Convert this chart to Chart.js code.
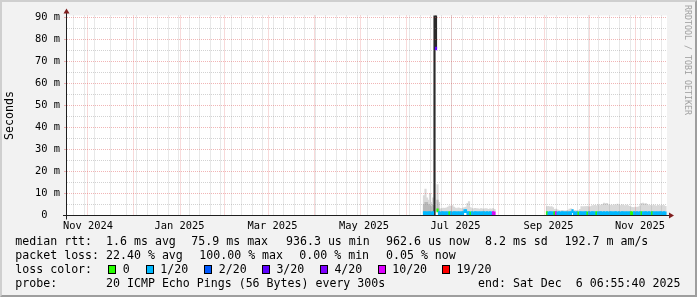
<!DOCTYPE html>
<html><head><meta charset="utf-8">
<script src="https://cdn.jsdelivr.net/npm/chart.js@4.4.0/dist/chart.umd.min.js"></script>
<style>
html,body{margin:0;padding:0;background:#f2f2f2;}
#wrap{position:relative;width:697px;height:297px;background:#f2f2f2;overflow:hidden;}
#frame{position:absolute;left:0;top:0;width:697px;height:297px;box-sizing:border-box;border-style:solid;border-width:2px;border-color:#cfcfcf #9e9e9e #9e9e9e #cfcfcf;}
canvas{position:absolute;left:0;top:0;}
.t{position:absolute;font-family:'DejaVu Sans Mono',monospace;font-size:11.6px;line-height:14px;white-space:pre;color:#000;}
.box{position:absolute;top:265px;width:8px;height:9px;box-sizing:border-box;border:1px solid #000;}
#wm{position:absolute;left:692px;top:5px;transform-origin:0 0;transform:rotate(90deg);font-family:'DejaVu Sans Mono',monospace;font-size:8.3px;line-height:9px;white-space:pre;color:#a0a0a0;}
</style></head><body>
<div id="wrap">
<div id="frame"></div>
<canvas id="c" width="697" height="297"></canvas>
<div class="t" style="left:15.3px;top:234px">median rtt:  1.6 ms avg</div>
<div class="t" style="left:191.3px;top:234px">75.9 ms max</div>
<div class="t" style="left:286px;top:234px">936.3 us min</div>
<div class="t" style="left:386px;top:234px">962.6 us now</div>
<div class="t" style="left:485px;top:234px">8.2 ms sd</div>
<div class="t" style="left:564.6px;top:234px">192.7 m am/s</div>
<div class="t" style="left:15.3px;top:248px">packet loss: 22.40 % avg</div>
<div class="t" style="left:199.3px;top:248px">100.00 % max</div>
<div class="t" style="left:299.3px;top:248px">0.00 % min</div>
<div class="t" style="left:386px;top:248px">0.05 % now</div>
<div class="t" style="left:15.3px;top:262px">loss color:</div>
<div id="lossLegend"></div>
<div class="t" style="left:15.3px;top:276px">probe:       20 ICMP Echo Pings (56 Bytes) every 300s</div>
<div class="t" style="left:478px;top:276px">end: Sat Dec  6 06:55:40 2025</div>
<div id="wm">RRDTOOL / TOBI OETIKER</div>
</div>
<script>
// ---------- data ----------
const EPOCH = '2024-11-01';
const viewStart = '2024-11-02';
const viewEnd = '2025-12-07';

const xLabelText = ['Nov 2024','Jan 2025','Mar 2025','May 2025','Jul 2025','Sep 2025','Nov 2025'];
const xLabelAt   = ['2024-11-16','2025-01-16','2025-03-19','2025-05-19','2025-07-19','2025-09-19','2025-11-19'];
const monthGrid  = ['2024-12-01','2025-01-01','2025-02-01','2025-03-01','2025-04-01','2025-05-01','2025-06-01',
                    '2025-07-01','2025-08-01','2025-09-01','2025-10-01','2025-11-01','2025-12-01'];
const firstWeekGrid = '2024-11-03';

const yMax = 90.9;
const yGrid = [0,5,10,15,20,25,30,35,40,45,50,55,60,65,70,75,80,85,90];
const yLabelValues = [0,10,20,30,40,50,60,70,80,90];
const yLabelText = ['0  ','10 m','20 m','30 m','40 m','50 m','60 m','70 m','80 m','90 m'];

const lossLevels = [0,1,2,3,4,10,19];
const lossNames  = ['0','1/20','2/20','3/20','4/20','10/20','19/20'];
const lossColors = ['#26ff00','#00b8ff','#0059ff','#5e00ff','#7e00ff','#dd00ff','#ff0000'];

// segment 1: 2025-06-28 .. 2025-08-14 (ms)
const start1 = '2025-06-28';
const median1 = [1.05,1.1,1.0,1.05,1.1,1.0,1.05,null,75.9,2.3,1.05,1.0,1.05,1.1,1.0,1.05,1.0,1.1,1.05,1.0,
                 1.05,1.1,1.0,1.05,1.0,1.05,1.1,2.0,2.0,1.1,1.05,1.0,1.05,1.0,1.1,1.05,1.0,1.05,1.0,1.05,
                 1.1,1.0,1.05,1.0,1.05,1.0,1.05,1.0];
const loss1   = [1,1,1,1,1,1,1,null,3,0,1,1,1,1,1,1,1,0,1,1,
                 1,1,1,1,1,1,1,1,1,1,1,0,1,1,1,1,1,1,1,1,
                 1,1,1,1,1,1,10,10];
const smokeHi1 = [9,12,8,7,10,6,8,null,null,14,6,3.0,3.2,3.4,3.3,3.5,3.8,4.4,4.2,4.5,
                  3.8,3.4,3.2,3.5,3.3,3.1,3.4,3.6,3.8,5.5,6.3,3.6,3.2,3.0,3.3,3.1,3.0,2.9,3.2,3.0,
                  2.9,3.1,3.0,2.8,3.0,2.9,3.1,2.8];
const smokeMid1 = [5,6,6,5,4.5,4,5,null,null,7,3,null,null,null,null,null,null,null,null,null,
                   null,null,null,null,null,null,null,null,null,null,null,null,null,null,null,null,null,null,null,null,
                   null,null,null,null,null,null,null,null];
const smokeCore1 = [null,null,null,null,null,null,null,91,91,null,null,null,null,null,null,null,null,null,null,null,
                    null,null,null,null,null,null,null,null,null,null,null,null,null,null,null,null,null,null,null,null,
                    null,null,null,null,null,null,null,null];

// segment 2: 2025-09-18 .. 2025-12-06 (ms)
const start2 = '2025-09-18';
const median2 = [1.05,1.0,1.1,1.05,1.0,1.05,1.1,1.0,1.05,1.0,1.05,1.1,1.0,1.05,1.0,1.05,1.1,2.0,1.05,1.0,
                 1.05,1.0,1.1,1.05,1.0,1.05,1.1,1.0,1.05,1.0,1.05,1.1,1.0,1.05,1.0,1.05,1.1,1.0,1.05,1.0,
                 1.05,1.0,1.1,1.05,1.0,1.05,1.1,1.0,1.05,1.0,1.05,1.1,1.0,1.05,1.0,1.05,1.1,1.0,1.05,1.0,
                 1.05,1.0,1.1,1.05,1.0,1.05,1.1,1.0,1.05,1.0,1.05,1.1,1.0,1.05,1.0,1.05,1.1,1.0,1.05,1.0];
const loss2   = [0,1,1,1,1,0,10,1,1,1,1,1,1,1,1,1,1,1,1,1,
                 1,0,1,1,1,1,1,0,1,1,1,1,1,0,1,1,1,1,1,1,
                 1,1,1,1,1,1,1,1,1,1,1,1,1,1,1,1,0,0,1,1,
                 1,1,1,0,1,1,1,1,1,1,0,1,1,1,1,1,1,1,1,1];
const smokeHi2 = [4.0,4.2,3.8,4.0,3.6,2.8,2.9,2.6,2.2,2.1,2.3,2.2,2.0,2.2,2.4,2.9,3.0,2.8,2.2,2.3,
                  2.1,2.2,2.8,4.0,3.9,4.1,4.0,4.2,3.8,4.0,4.4,4.5,4.6,4.4,4.8,4.5,4.7,5.0,5.6,5.4,
                  5.5,4.8,4.6,4.7,4.5,4.9,4.6,5.2,4.7,4.5,4.8,4.6,4.4,4.7,4.5,4.2,3.8,3.7,3.6,3.8,
                  3.7,3.9,4.4,5.5,5.6,5.3,5.4,4.9,4.5,4.6,4.4,4.7,4.5,4.3,4.6,4.5,4.4,4.6,4.5,4.2];

// ---------- helpers ----------
const DAY = 864e5;
const ep = Date.parse(EPOCH + 'T00:00:00Z');
const dayOf = s => (Date.parse(s + 'T00:00:00Z') - ep) / DAY;
const X_MIN = dayOf(viewStart), X_MAX = dayOf(viewEnd);
const BAND = 0.68; // half height of the median band, ms

const segments = [
  {start: start1, median: median1, loss: loss1, hi: smokeHi1, mid: smokeMid1, core: smokeCore1},
  {start: start2, median: median2, loss: loss2, hi: smokeHi2, mid: null, core: null}
];
function smokeBars(key) {
  const out = [];
  for (const s of segments) {
    const arr = s[key]; if (!arr) continue;
    const d0 = dayOf(s.start);
    arr.forEach((v, i) => { if (v == null) return; const m = s.median[i]; out.push({x: d0 + i, y: [m == null ? 0 : m, v]}); });
  }
  return out;
}
function medianBars() {
  const out = [];
  for (const s of segments) {
    const d0 = dayOf(s.start);
    s.median.forEach((m, i) => { if (m == null) return; out.push({x: d0 + i, y: [m - BAND, m + BAND], loss: s.loss[i]}); });
  }
  return out;
}
function lossColor(l) {
  for (let i = 0; i < lossLevels.length; i++) if (l <= lossLevels[i]) return lossColors[i];
  return lossColors[lossColors.length - 1];
}

// loss legend boxes
(function(){
  const boxX = [108.4,145.8,204.4,262,320,377.8,442.2];
  const host = document.getElementById('lossLegend');
  lossNames.forEach((n, i) => {
    const b = document.createElement('div'); b.className = 'box';
    b.style.left = boxX[i] + 'px'; b.style.background = lossColors[i]; host.appendChild(b);
    const t = document.createElement('div'); t.className = 't';
    t.style.left = (boxX[i] + 14.4) + 'px'; t.style.top = '262px'; t.textContent = n; host.appendChild(t);
  });
})();

// ---------- chart ----------
const MONO = 'DejaVu Sans Mono';
const MAJOR = 'rgba(222,79,79,0.42)';
const MINOR = 'rgba(143,143,143,0.4)';
const CLEAR = 'rgba(0,0,0,0)';

const weekGrid = [];
for (let d = dayOf(firstWeekGrid); d <= X_MAX; d += 7) {
  if (!monthGrid.some(m => dayOf(m) === d)) weekGrid.push(d);
}

const rrdFrame = {
  id: 'rrdFrame',
  beforeDraw(chart) {
    const {ctx, chartArea: a} = chart;
    ctx.save(); ctx.fillStyle = '#ffffff';
    ctx.fillRect(a.left, a.top, a.right - a.left, a.bottom - a.top);
    ctx.restore();
  },
  afterDraw(chart) {
    const {ctx, chartArea: a} = chart;
    const ax = a.left - 0.5, ay = a.bottom;
    ctx.save();
    ctx.strokeStyle = '#1f1f1f'; ctx.lineWidth = 1;
    ctx.beginPath(); ctx.moveTo(a.left - 4, ay); ctx.lineTo(a.right + 4, ay); ctx.stroke();
    ctx.beginPath(); ctx.moveTo(ax, ay + 4); ctx.lineTo(ax, a.top - 4); ctx.stroke();
    ctx.fillStyle = '#801f1f';
    ctx.beginPath(); ctx.moveTo(a.right + 2, ay - 3); ctx.lineTo(a.right + 2, ay + 3); ctx.lineTo(a.right + 7, ay); ctx.closePath(); ctx.fill();
    ctx.beginPath(); ctx.moveTo(ax - 3, a.top - 2); ctx.lineTo(ax + 3, a.top - 2); ctx.lineTo(ax, a.top - 7); ctx.closePath(); ctx.fill();
    ctx.restore();
  }
};

const barCommon = {grouped: false, categoryPercentage: 1, barPercentage: 1, xAxisID: 'x', yAxisID: 'y'};

new Chart(document.getElementById('c'), {
  type: 'bar',
  data: {
    datasets: [
      Object.assign({label: 'smoke outer', data: smokeBars('hi'), backgroundColor: '#d9d9d9', order: 4}, barCommon),
      Object.assign({label: 'smoke inner', data: smokeBars('mid'), backgroundColor: '#b9b9b9', order: 3}, barCommon),
      Object.assign({label: 'smoke core', data: smokeBars('core'), backgroundColor: '#2a2a2a', order: 2}, barCommon),
      Object.assign({label: 'median rtt', data: medianBars(), backgroundColor: c => c.raw ? lossColor(c.raw.loss) : CLEAR, order: 1}, barCommon)
    ]
  },
  options: {
    responsive: false, animation: false, devicePixelRatio: 1,
    layout: {padding: {left: 0, right: 30, top: 15.5, bottom: 0}},
    plugins: {legend: {display: false}, tooltip: {enabled: false}},
    scales: {
      x: {
        type: 'linear', position: 'bottom', min: X_MIN, max: X_MAX, offset: false,
        afterBuildTicks: s => { s.ticks = xLabelAt.map(d => ({value: dayOf(d)})); },
        afterFit: s => { s.height = 81.5; },
        grid: {display: false, drawTicks: false}, border: {display: false},
        ticks: {autoSkip: false, maxRotation: 0, minRotation: 0, padding: 5, color: '#000',
                font: {family: MONO, size: 10.4}, callback: (v, i) => xLabelText[i]}
      },
      xMonth: {
        type: 'linear', position: 'bottom', min: X_MIN, max: X_MAX, offset: false,
        afterBuildTicks: s => { s.ticks = monthGrid.map(d => ({value: dayOf(d)})); },
        afterFit: s => { s.height = 0; },
        ticks: {display: false}, grid: {z: 1, color: MAJOR, drawTicks: false}, border: {display: false, dash: [1, 1]}
      },
      xWeek: {
        type: 'linear', position: 'bottom', min: X_MIN, max: X_MAX, offset: false,
        afterBuildTicks: s => { s.ticks = weekGrid.map(d => ({value: d})); },
        afterFit: s => { s.height = 0; },
        ticks: {display: false}, grid: {z: 1, color: MINOR, drawTicks: false}, border: {display: false, dash: [1, 1]}
      },
      y: {
        type: 'linear', position: 'left', min: 0, max: yMax,
        afterBuildTicks: s => { s.ticks = yGrid.map(v => ({value: v})); },
        afterFit: s => { s.width = 67; },
        ticks: {autoSkip: false, padding: 4, color: '#000', font: {family: MONO, size: 10.4},
                callback: v => { const i = yLabelValues.indexOf(v); return i < 0 ? '' : yLabelText[i]; }},
        grid: {z: 1, drawTicks: true, tickLength: 3,
               color: c => (c.tick && c.tick.value === 0) ? CLEAR : (c.tick && c.tick.value % 10 === 0 ? MAJOR : MINOR),
               tickColor: c => (c.tick && c.tick.value % 10 === 0 && c.tick.value > 0) ? MAJOR : CLEAR},
        border: {display: false, dash: [1, 1]},
        title: {display: true, text: 'Seconds', color: '#000', font: {family: MONO, size: 11.6}, padding: {top: 3, bottom: 0}}
      }
    }
  },
  plugins: [rrdFrame]
});
</script>
</body></html>
